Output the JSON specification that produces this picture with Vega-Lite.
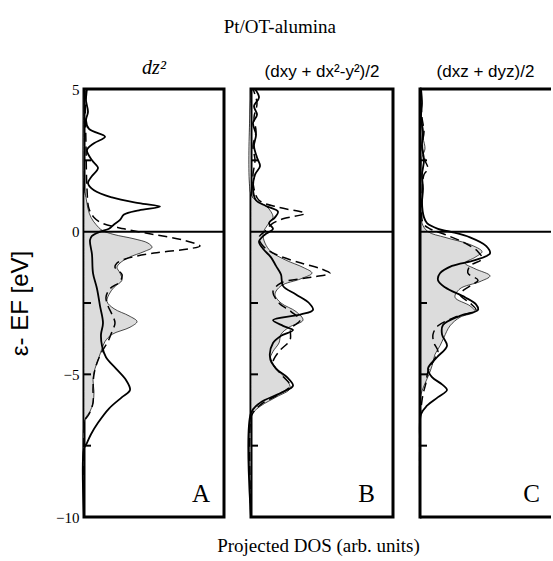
{
"$schema": "https://vega.github.io/schema/vega-lite/v6.json",
"padding": {"left": 7, "top": 17, "right": 0, "bottom": 2},
"background": "white",
"title": {"text": "Pt/OT-alumina", "font": "Liberation Serif", "fontSize": 19, "fontWeight": "normal", "color": "black", "anchor": "middle", "offset": 20},
"config": {"view": {"stroke": "black", "strokeWidth": 3}, "axis": {"grid": false}},
"spacing": 27,
"bounds": "flush",
"datasets": {
"dos": [
{"p":"A","s":"g","E":5,"v":0},{"p":"A","s":"g","E":1.5,"v":0},{"p":"A","s":"g","E":1.2,"v":2},{"p":"A","s":"g","E":0.8,"v":4},{"p":"A","s":"g","E":0.5,"v":7},{"p":"A","s":"g","E":0.25,"v":12},{"p":"A","s":"g","E":0.05,"v":18},{"p":"A","s":"g","E":-0.1,"v":30},{"p":"A","s":"g","E":-0.25,"v":50},{"p":"A","s":"g","E":-0.4,"v":64},{"p":"A","s":"g","E":-0.55,"v":68},{"p":"A","s":"g","E":-0.7,"v":60},{"p":"A","s":"g","E":-0.9,"v":45},{"p":"A","s":"g","E":-1.1,"v":36},{"p":"A","s":"g","E":-1.25,"v":33},{"p":"A","s":"g","E":-1.45,"v":36},{"p":"A","s":"g","E":-1.7,"v":38},{"p":"A","s":"g","E":-1.95,"v":30},{"p":"A","s":"g","E":-2.2,"v":25},{"p":"A","s":"g","E":-2.45,"v":23},{"p":"A","s":"g","E":-2.7,"v":30},{"p":"A","s":"g","E":-2.95,"v":45},{"p":"A","s":"g","E":-3.15,"v":53},{"p":"A","s":"g","E":-3.35,"v":46},{"p":"A","s":"g","E":-3.6,"v":28},{"p":"A","s":"g","E":-3.85,"v":21},{"p":"A","s":"g","E":-4.1,"v":18},{"p":"A","s":"g","E":-4.4,"v":15},{"p":"A","s":"g","E":-4.8,"v":11},{"p":"A","s":"g","E":-5.2,"v":9},{"p":"A","s":"g","E":-5.6,"v":10},{"p":"A","s":"g","E":-6.0,"v":9},{"p":"A","s":"g","E":-6.3,"v":6},{"p":"A","s":"g","E":-6.5,"v":2},{"p":"A","s":"g","E":-6.7,"v":0},{"p":"A","s":"g","E":-10,"v":0},
{"p":"A","s":"s","E":5,"v":3},{"p":"A","s":"s","E":4.6,"v":2},{"p":"A","s":"s","E":4.2,"v":4},{"p":"A","s":"s","E":3.9,"v":2},{"p":"A","s":"s","E":3.6,"v":5},{"p":"A","s":"s","E":3.33,"v":21},{"p":"A","s":"s","E":3.1,"v":10},{"p":"A","s":"s","E":2.86,"v":3},{"p":"A","s":"s","E":2.5,"v":8},{"p":"A","s":"s","E":2.23,"v":14},{"p":"A","s":"s","E":1.95,"v":8},{"p":"A","s":"s","E":1.7,"v":4},{"p":"A","s":"s","E":1.45,"v":10},{"p":"A","s":"s","E":1.2,"v":28},{"p":"A","s":"s","E":1.0,"v":55},{"p":"A","s":"s","E":0.88,"v":76},{"p":"A","s":"s","E":0.75,"v":55},{"p":"A","s":"s","E":0.6,"v":40},{"p":"A","s":"s","E":0.41,"v":36},{"p":"A","s":"s","E":0.25,"v":30},{"p":"A","s":"s","E":0.1,"v":25},{"p":"A","s":"s","E":0.0,"v":16},{"p":"A","s":"s","E":-0.15,"v":8},{"p":"A","s":"s","E":-0.3,"v":6},{"p":"A","s":"s","E":-0.8,"v":8},{"p":"A","s":"s","E":-1.45,"v":9},{"p":"A","s":"s","E":-2.0,"v":13},{"p":"A","s":"s","E":-2.6,"v":16},{"p":"A","s":"s","E":-3.2,"v":19},{"p":"A","s":"s","E":-3.6,"v":17},{"p":"A","s":"s","E":-4.0,"v":18},{"p":"A","s":"s","E":-4.4,"v":22},{"p":"A","s":"s","E":-4.8,"v":32},{"p":"A","s":"s","E":-5.2,"v":42},{"p":"A","s":"s","E":-5.55,"v":46},{"p":"A","s":"s","E":-5.8,"v":38},{"p":"A","s":"s","E":-6.2,"v":25},{"p":"A","s":"s","E":-6.7,"v":14},{"p":"A","s":"s","E":-7.1,"v":7},{"p":"A","s":"s","E":-7.4,"v":3},{"p":"A","s":"s","E":-7.6,"v":0},{"p":"A","s":"s","E":-10,"v":0},
{"p":"A","s":"d","E":5,"v":1},{"p":"A","s":"d","E":3,"v":2},{"p":"A","s":"d","E":1.5,"v":3},{"p":"A","s":"d","E":0.8,"v":5},{"p":"A","s":"d","E":0.5,"v":10},{"p":"A","s":"d","E":0.3,"v":18},{"p":"A","s":"d","E":0.1,"v":40},{"p":"A","s":"d","E":-0.1,"v":70},{"p":"A","s":"d","E":-0.3,"v":100},{"p":"A","s":"d","E":-0.5,"v":116},{"p":"A","s":"d","E":-0.6,"v":105},{"p":"A","s":"d","E":-0.75,"v":70},{"p":"A","s":"d","E":-0.95,"v":42},{"p":"A","s":"d","E":-1.1,"v":33},{"p":"A","s":"d","E":-1.25,"v":31},{"p":"A","s":"d","E":-1.5,"v":38},{"p":"A","s":"d","E":-1.75,"v":36},{"p":"A","s":"d","E":-2.0,"v":26},{"p":"A","s":"d","E":-2.3,"v":22},{"p":"A","s":"d","E":-2.6,"v":24},{"p":"A","s":"d","E":-2.9,"v":28},{"p":"A","s":"d","E":-3.2,"v":31},{"p":"A","s":"d","E":-3.5,"v":28},{"p":"A","s":"d","E":-3.85,"v":24},{"p":"A","s":"d","E":-4.2,"v":18},{"p":"A","s":"d","E":-4.6,"v":13},{"p":"A","s":"d","E":-5.0,"v":10},{"p":"A","s":"d","E":-5.5,"v":9},{"p":"A","s":"d","E":-6.0,"v":9},{"p":"A","s":"d","E":-6.4,"v":5},{"p":"A","s":"d","E":-6.6,"v":1},{"p":"A","s":"d","E":-7,"v":0},{"p":"A","s":"d","E":-10,"v":0},
{"p":"B","s":"g","E":5,"v":0},{"p":"B","s":"g","E":1.3,"v":0},{"p":"B","s":"g","E":1.1,"v":5},{"p":"B","s":"g","E":0.9,"v":15},{"p":"B","s":"g","E":0.7,"v":20},{"p":"B","s":"g","E":0.5,"v":22},{"p":"B","s":"g","E":0.3,"v":18},{"p":"B","s":"g","E":0.1,"v":14},{"p":"B","s":"g","E":-0.1,"v":12},{"p":"B","s":"g","E":-0.4,"v":14},{"p":"B","s":"g","E":-0.7,"v":20},{"p":"B","s":"g","E":-1.0,"v":35},{"p":"B","s":"g","E":-1.25,"v":52},{"p":"B","s":"g","E":-1.45,"v":61},{"p":"B","s":"g","E":-1.65,"v":50},{"p":"B","s":"g","E":-1.9,"v":30},{"p":"B","s":"g","E":-2.2,"v":24},{"p":"B","s":"g","E":-2.5,"v":30},{"p":"B","s":"g","E":-2.8,"v":45},{"p":"B","s":"g","E":-3.1,"v":52},{"p":"B","s":"g","E":-3.35,"v":38},{"p":"B","s":"g","E":-3.6,"v":30},{"p":"B","s":"g","E":-3.9,"v":28},{"p":"B","s":"g","E":-4.2,"v":22},{"p":"B","s":"g","E":-4.5,"v":19},{"p":"B","s":"g","E":-4.8,"v":25},{"p":"B","s":"g","E":-5.2,"v":36},{"p":"B","s":"g","E":-5.5,"v":39},{"p":"B","s":"g","E":-5.8,"v":25},{"p":"B","s":"g","E":-6.1,"v":10},{"p":"B","s":"g","E":-6.35,"v":2},{"p":"B","s":"g","E":-6.5,"v":0},{"p":"B","s":"g","E":-10,"v":0},
{"p":"B","s":"s","E":5,"v":4},{"p":"B","s":"s","E":4.7,"v":8},{"p":"B","s":"s","E":4.4,"v":3},{"p":"B","s":"s","E":4.1,"v":6},{"p":"B","s":"s","E":3.8,"v":2},{"p":"B","s":"s","E":3.4,"v":5},{"p":"B","s":"s","E":3.0,"v":3},{"p":"B","s":"s","E":2.6,"v":6},{"p":"B","s":"s","E":2.3,"v":9},{"p":"B","s":"s","E":2.0,"v":4},{"p":"B","s":"s","E":1.5,"v":2},{"p":"B","s":"s","E":1.1,"v":5},{"p":"B","s":"s","E":0.9,"v":15},{"p":"B","s":"s","E":0.7,"v":27},{"p":"B","s":"s","E":0.5,"v":24},{"p":"B","s":"s","E":0.3,"v":18},{"p":"B","s":"s","E":0.1,"v":22},{"p":"B","s":"s","E":-0.1,"v":14},{"p":"B","s":"s","E":-0.35,"v":8},{"p":"B","s":"s","E":-0.6,"v":12},{"p":"B","s":"s","E":-0.9,"v":20},{"p":"B","s":"s","E":-1.2,"v":25},{"p":"B","s":"s","E":-1.5,"v":30},{"p":"B","s":"s","E":-1.9,"v":32},{"p":"B","s":"s","E":-2.2,"v":45},{"p":"B","s":"s","E":-2.5,"v":58},{"p":"B","s":"s","E":-2.74,"v":62},{"p":"B","s":"s","E":-2.9,"v":50},{"p":"B","s":"s","E":-3.1,"v":22},{"p":"B","s":"s","E":-3.3,"v":32},{"p":"B","s":"s","E":-3.45,"v":42},{"p":"B","s":"s","E":-3.65,"v":30},{"p":"B","s":"s","E":-3.9,"v":22},{"p":"B","s":"s","E":-4.4,"v":19},{"p":"B","s":"s","E":-4.8,"v":25},{"p":"B","s":"s","E":-5.1,"v":36},{"p":"B","s":"s","E":-5.4,"v":42},{"p":"B","s":"s","E":-5.65,"v":30},{"p":"B","s":"s","E":-6.0,"v":9},{"p":"B","s":"s","E":-6.36,"v":0},{"p":"B","s":"s","E":-10,"v":0},
{"p":"B","s":"d","E":5,"v":2},{"p":"B","s":"d","E":4.5,"v":6},{"p":"B","s":"d","E":4,"v":3},{"p":"B","s":"d","E":3.5,"v":5},{"p":"B","s":"d","E":3,"v":2},{"p":"B","s":"d","E":2.5,"v":4},{"p":"B","s":"d","E":2,"v":2},{"p":"B","s":"d","E":1.5,"v":3},{"p":"B","s":"d","E":1.1,"v":8},{"p":"B","s":"d","E":0.85,"v":28},{"p":"B","s":"d","E":0.64,"v":54},{"p":"B","s":"d","E":0.45,"v":32},{"p":"B","s":"d","E":0.25,"v":20},{"p":"B","s":"d","E":0.05,"v":15},{"p":"B","s":"d","E":-0.2,"v":8},{"p":"B","s":"d","E":-0.5,"v":12},{"p":"B","s":"d","E":-0.8,"v":25},{"p":"B","s":"d","E":-1.1,"v":50},{"p":"B","s":"d","E":-1.3,"v":70},{"p":"B","s":"d","E":-1.46,"v":79},{"p":"B","s":"d","E":-1.6,"v":60},{"p":"B","s":"d","E":-1.8,"v":30},{"p":"B","s":"d","E":-2.1,"v":22},{"p":"B","s":"d","E":-2.5,"v":28},{"p":"B","s":"d","E":-2.8,"v":40},{"p":"B","s":"d","E":-3.1,"v":49},{"p":"B","s":"d","E":-3.4,"v":40},{"p":"B","s":"d","E":-3.8,"v":39},{"p":"B","s":"d","E":-4.2,"v":28},{"p":"B","s":"d","E":-4.6,"v":22},{"p":"B","s":"d","E":-5.0,"v":30},{"p":"B","s":"d","E":-5.4,"v":39},{"p":"B","s":"d","E":-5.7,"v":28},{"p":"B","s":"d","E":-6.0,"v":12},{"p":"B","s":"d","E":-6.3,"v":3},{"p":"B","s":"d","E":-6.5,"v":0},{"p":"B","s":"d","E":-10,"v":0},
{"p":"C","s":"g","E":5,"v":0},{"p":"C","s":"g","E":4,"v":1},{"p":"C","s":"g","E":3.3,"v":3},{"p":"C","s":"g","E":2.9,"v":5},{"p":"C","s":"g","E":2.6,"v":2},{"p":"C","s":"g","E":1,"v":1},{"p":"C","s":"g","E":0.3,"v":2},{"p":"C","s":"g","E":0,"v":8},{"p":"C","s":"g","E":-0.2,"v":25},{"p":"C","s":"g","E":-0.45,"v":50},{"p":"C","s":"g","E":-0.7,"v":62},{"p":"C","s":"g","E":-0.9,"v":55},{"p":"C","s":"g","E":-1.1,"v":45},{"p":"C","s":"g","E":-1.3,"v":55},{"p":"C","s":"g","E":-1.55,"v":70},{"p":"C","s":"g","E":-1.75,"v":60},{"p":"C","s":"g","E":-2.0,"v":40},{"p":"C","s":"g","E":-2.3,"v":35},{"p":"C","s":"g","E":-2.6,"v":50},{"p":"C","s":"g","E":-2.8,"v":55},{"p":"C","s":"g","E":-3.0,"v":40},{"p":"C","s":"g","E":-3.3,"v":30},{"p":"C","s":"g","E":-3.7,"v":24},{"p":"C","s":"g","E":-4.0,"v":20},{"p":"C","s":"g","E":-4.3,"v":15},{"p":"C","s":"g","E":-4.7,"v":12},{"p":"C","s":"g","E":-5.0,"v":9},{"p":"C","s":"g","E":-5.4,"v":4},{"p":"C","s":"g","E":-5.7,"v":1},{"p":"C","s":"g","E":-6,"v":0},{"p":"C","s":"g","E":-10,"v":0},
{"p":"C","s":"s","E":5,"v":1},{"p":"C","s":"s","E":4.5,"v":2},{"p":"C","s":"s","E":4,"v":1},{"p":"C","s":"s","E":3.5,"v":3},{"p":"C","s":"s","E":3,"v":2},{"p":"C","s":"s","E":2.5,"v":4},{"p":"C","s":"s","E":2,"v":2},{"p":"C","s":"s","E":1.5,"v":3},{"p":"C","s":"s","E":1.0,"v":2},{"p":"C","s":"s","E":0.5,"v":4},{"p":"C","s":"s","E":0.3,"v":7},{"p":"C","s":"s","E":0.1,"v":18},{"p":"C","s":"s","E":0,"v":30},{"p":"C","s":"s","E":-0.2,"v":50},{"p":"C","s":"s","E":-0.5,"v":66},{"p":"C","s":"s","E":-0.76,"v":70},{"p":"C","s":"s","E":-1.0,"v":55},{"p":"C","s":"s","E":-1.2,"v":32},{"p":"C","s":"s","E":-1.46,"v":20},{"p":"C","s":"s","E":-1.7,"v":18},{"p":"C","s":"s","E":-1.95,"v":25},{"p":"C","s":"s","E":-2.3,"v":45},{"p":"C","s":"s","E":-2.55,"v":56},{"p":"C","s":"s","E":-2.74,"v":58},{"p":"C","s":"s","E":-2.95,"v":40},{"p":"C","s":"s","E":-3.27,"v":23},{"p":"C","s":"s","E":-3.6,"v":22},{"p":"C","s":"s","E":-4.0,"v":27},{"p":"C","s":"s","E":-4.4,"v":17},{"p":"C","s":"s","E":-4.8,"v":8},{"p":"C","s":"s","E":-5.1,"v":12},{"p":"C","s":"s","E":-5.35,"v":22},{"p":"C","s":"s","E":-5.55,"v":27},{"p":"C","s":"s","E":-5.8,"v":18},{"p":"C","s":"s","E":-6.1,"v":7},{"p":"C","s":"s","E":-6.4,"v":1},{"p":"C","s":"s","E":-7.5,"v":0},{"p":"C","s":"s","E":-10,"v":0},
{"p":"C","s":"d","E":5,"v":0},{"p":"C","s":"d","E":4,"v":2},{"p":"C","s":"d","E":3.5,"v":4},{"p":"C","s":"d","E":3,"v":2},{"p":"C","s":"d","E":2.5,"v":5},{"p":"C","s":"d","E":2.2,"v":8},{"p":"C","s":"d","E":2,"v":4},{"p":"C","s":"d","E":1,"v":2},{"p":"C","s":"d","E":0.3,"v":3},{"p":"C","s":"d","E":0.1,"v":10},{"p":"C","s":"d","E":-0.1,"v":25},{"p":"C","s":"d","E":-0.4,"v":45},{"p":"C","s":"d","E":-0.7,"v":58},{"p":"C","s":"d","E":-0.95,"v":62},{"p":"C","s":"d","E":-1.2,"v":50},{"p":"C","s":"d","E":-1.46,"v":48},{"p":"C","s":"d","E":-1.7,"v":58},{"p":"C","s":"d","E":-1.9,"v":50},{"p":"C","s":"d","E":-2.2,"v":40},{"p":"C","s":"d","E":-2.5,"v":50},{"p":"C","s":"d","E":-2.75,"v":56},{"p":"C","s":"d","E":-3.0,"v":35},{"p":"C","s":"d","E":-3.3,"v":18},{"p":"C","s":"d","E":-3.6,"v":13},{"p":"C","s":"d","E":-3.9,"v":14},{"p":"C","s":"d","E":-4.2,"v":18},{"p":"C","s":"d","E":-4.5,"v":14},{"p":"C","s":"d","E":-4.9,"v":8},{"p":"C","s":"d","E":-5.3,"v":6},{"p":"C","s":"d","E":-5.7,"v":3},{"p":"C","s":"d","E":-6.2,"v":1},{"p":"C","s":"d","E":-6.6,"v":0},{"p":"C","s":"d","E":-10,"v":0}
]
},
"hconcat": [
{
"width": 140, "height": 428,
"title": {"text": "dz²", "font": "Liberation Serif", "fontStyle": "italic", "fontSize": 20, "fontWeight": "normal", "color": "black", "anchor": "middle", "offset": 4},
"layer": [
{"data": {"name": "dos"}, "transform": [{"filter": "datum.p=='A' && datum.s=='g'"}],
 "mark": {"type": "area", "orient": "horizontal", "interpolate": "catmull-rom", "fill": "#dcdcdc", "stroke": "black", "strokeWidth": 0.7},
 "encoding": {
  "x": {"field": "v", "type": "quantitative", "stack": null, "scale": {"domain": [0, 140], "nice": false, "zero": false}, "axis": null},
  "y": {"field": "E", "type": "quantitative", "scale": {"domain": [-10, 5], "nice": false, "zero": false},
        "axis": {"values": [5, 0, -5, -10], "ticks": false, "domain": false, "labelFlush": false, "labelOverlap": false, "labelFont": "Liberation Serif", "labelFontSize": 15, "labelColor": "black", "labelPadding": 5, "title": "ε- EF [eV]", "titleFont": "Liberation Sans", "titleFontSize": 24, "titleFontWeight": "normal", "titleColor": "black", "titlePadding": 23}}}},
{"data": {"name": "dos"}, "transform": [{"filter": "datum.p=='A' && datum.s=='s'"}],
 "mark": {"type": "line", "interpolate": "catmull-rom", "stroke": "black", "strokeWidth": 1.8},
 "encoding": {"x": {"field": "v", "type": "quantitative", "axis": null}, "y": {"field": "E", "type": "quantitative"}, "order": {"field": "E", "type": "quantitative"}}},
{"data": {"name": "dos"}, "transform": [{"filter": "datum.p=='A' && datum.s=='d'"}],
 "mark": {"type": "line", "interpolate": "catmull-rom", "stroke": "black", "strokeWidth": 1.5, "strokeDash": [9, 5]},
 "encoding": {"x": {"field": "v", "type": "quantitative", "axis": null}, "y": {"field": "E", "type": "quantitative"}, "order": {"field": "E", "type": "quantitative"}}},
{"data": {"values": [{"z": 0}]}, "mark": {"type": "rule", "stroke": "black", "strokeWidth": 2}, "encoding": {"y": {"field": "z", "type": "quantitative"}}},
{"data": {"values": [{"t": 2.5}, {"t": -2.5}, {"t": -5}, {"t": -7.5}]}, "mark": {"type": "rule", "stroke": "black", "strokeWidth": 2},
 "encoding": {"y": {"field": "t", "type": "quantitative"}, "x": {"datum": 0, "axis": null}, "x2": {"datum": 7}}},
{"data": {"values": [{"L": "A"}]}, "mark": {"type": "text", "font": "Liberation Serif", "fontSize": 25, "align": "right", "baseline": "alphabetic", "color": "black"},
 "encoding": {"text": {"field": "L"}, "x": {"datum": 126, "axis": null}, "y": {"datum": -9.48}}}
]
},
{
"width": 142, "height": 428,
"title": {"text": "(dxy + dx²-y²)/2", "font": "Liberation Sans", "fontSize": 17, "fontWeight": "normal", "color": "black", "anchor": "middle", "offset": 4},
"layer": [
{"data": {"name": "dos"}, "transform": [{"filter": "datum.p=='B' && datum.s=='g'"}],
 "mark": {"type": "area", "orient": "horizontal", "interpolate": "catmull-rom", "fill": "#dcdcdc", "stroke": "black", "strokeWidth": 0.7},
 "encoding": {
  "x": {"field": "v", "type": "quantitative", "stack": null, "scale": {"domain": [0, 142], "nice": false, "zero": false},
        "axis": {"labels": false, "ticks": false, "domain": false, "title": "Projected DOS (arb. units)", "titleFont": "Liberation Serif", "titleFontSize": 19, "titleFontWeight": "normal", "titleColor": "black", "titlePadding": 19, "titleX": 67}},
  "y": {"field": "E", "type": "quantitative", "scale": {"domain": [-10, 5], "nice": false, "zero": false}, "axis": null}}},
{"data": {"name": "dos"}, "transform": [{"filter": "datum.p=='B' && datum.s=='s'"}],
 "mark": {"type": "line", "interpolate": "catmull-rom", "stroke": "black", "strokeWidth": 1.8},
 "encoding": {"x": {"field": "v", "type": "quantitative", "axis": {"labels": false, "ticks": false, "domain": false, "title": "Projected DOS (arb. units)", "titleFont": "Liberation Serif", "titleFontSize": 19, "titleFontWeight": "normal", "titleColor": "black", "titlePadding": 19, "titleX": 67}}, "y": {"field": "E", "type": "quantitative", "axis": null}, "order": {"field": "E", "type": "quantitative"}}},
{"data": {"name": "dos"}, "transform": [{"filter": "datum.p=='B' && datum.s=='d'"}],
 "mark": {"type": "line", "interpolate": "catmull-rom", "stroke": "black", "strokeWidth": 1.5, "strokeDash": [9, 5]},
 "encoding": {"x": {"field": "v", "type": "quantitative", "axis": {"labels": false, "ticks": false, "domain": false, "title": "Projected DOS (arb. units)", "titleFont": "Liberation Serif", "titleFontSize": 19, "titleFontWeight": "normal", "titleColor": "black", "titlePadding": 19, "titleX": 67}}, "y": {"field": "E", "type": "quantitative", "axis": null}, "order": {"field": "E", "type": "quantitative"}}},
{"data": {"values": [{"z": 0}]}, "mark": {"type": "rule", "stroke": "black", "strokeWidth": 2}, "encoding": {"y": {"field": "z", "type": "quantitative", "axis": null}}},
{"data": {"values": [{"t": 2.5}, {"t": -2.5}, {"t": -5}, {"t": -7.5}]}, "mark": {"type": "rule", "stroke": "black", "strokeWidth": 2},
 "encoding": {"y": {"field": "t", "type": "quantitative", "axis": null}, "x": {"datum": 0, "axis": {"labels": false, "ticks": false, "domain": false, "title": "Projected DOS (arb. units)", "titleFont": "Liberation Serif", "titleFontSize": 19, "titleFontWeight": "normal", "titleColor": "black", "titlePadding": 19, "titleX": 67}}, "x2": {"datum": 7}}},
{"data": {"values": [{"L": "B"}]}, "mark": {"type": "text", "font": "Liberation Serif", "fontSize": 25, "align": "right", "baseline": "alphabetic", "color": "black"},
 "encoding": {"text": {"field": "L"}, "x": {"datum": 124, "axis": {"labels": false, "ticks": false, "domain": false, "title": "Projected DOS (arb. units)", "titleFont": "Liberation Serif", "titleFontSize": 19, "titleFontWeight": "normal", "titleColor": "black", "titlePadding": 19, "titleX": 67}}, "y": {"datum": -9.48, "axis": null}}}
]
},
{
"width": 131, "height": 428,
"view": {"stroke": null},
"title": {"text": "(dxz + dyz)/2", "font": "Liberation Sans", "fontSize": 17, "fontWeight": "normal", "color": "black", "anchor": "middle", "offset": 4},
"layer": [
{"data": {"name": "dos"}, "transform": [{"filter": "datum.p=='C' && datum.s=='g'"}],
 "mark": {"type": "area", "orient": "horizontal", "interpolate": "catmull-rom", "fill": "#dcdcdc", "stroke": "black", "strokeWidth": 0.7},
 "encoding": {
  "x": {"field": "v", "type": "quantitative", "stack": null, "scale": {"domain": [0, 131], "nice": false, "zero": false}, "axis": null},
  "y": {"field": "E", "type": "quantitative", "scale": {"domain": [-10, 5], "nice": false, "zero": false}, "axis": null}}},
{"data": {"name": "dos"}, "transform": [{"filter": "datum.p=='C' && datum.s=='s'"}],
 "mark": {"type": "line", "interpolate": "catmull-rom", "stroke": "black", "strokeWidth": 1.8},
 "encoding": {"x": {"field": "v", "type": "quantitative", "axis": null}, "y": {"field": "E", "type": "quantitative", "axis": null}, "order": {"field": "E", "type": "quantitative"}}},
{"data": {"name": "dos"}, "transform": [{"filter": "datum.p=='C' && datum.s=='d'"}],
 "mark": {"type": "line", "interpolate": "catmull-rom", "stroke": "black", "strokeWidth": 1.5, "strokeDash": [9, 5]},
 "encoding": {"x": {"field": "v", "type": "quantitative", "axis": null}, "y": {"field": "E", "type": "quantitative", "axis": null}, "order": {"field": "E", "type": "quantitative"}}},
{"data": {"values": [{"z": 0}]}, "mark": {"type": "rule", "stroke": "black", "strokeWidth": 2}, "encoding": {"y": {"field": "z", "type": "quantitative", "axis": null}}},
{"data": {"values": [{"z": 5}, {"z": -10}]}, "mark": {"type": "rule", "stroke": "black", "strokeWidth": 3}, "encoding": {"y": {"field": "z", "type": "quantitative", "axis": null}}},
{"data": {"values": [{"z": 0}]}, "mark": {"type": "rule", "stroke": "black", "strokeWidth": 3, "strokeCap": "square"}, "encoding": {"x": {"field": "z", "type": "quantitative", "axis": null}}},
{"data": {"values": [{"t": 2.5}, {"t": -2.5}, {"t": -5}, {"t": -7.5}]}, "mark": {"type": "rule", "stroke": "black", "strokeWidth": 2},
 "encoding": {"y": {"field": "t", "type": "quantitative", "axis": null}, "x": {"datum": 0, "axis": null}, "x2": {"datum": 7}}},
{"data": {"values": [{"L": "C"}]}, "mark": {"type": "text", "font": "Liberation Serif", "fontSize": 25, "align": "right", "baseline": "alphabetic", "color": "black"},
 "encoding": {"text": {"field": "L"}, "x": {"datum": 120, "axis": null}, "y": {"datum": -9.48, "axis": null}}}
]
}
]
}
